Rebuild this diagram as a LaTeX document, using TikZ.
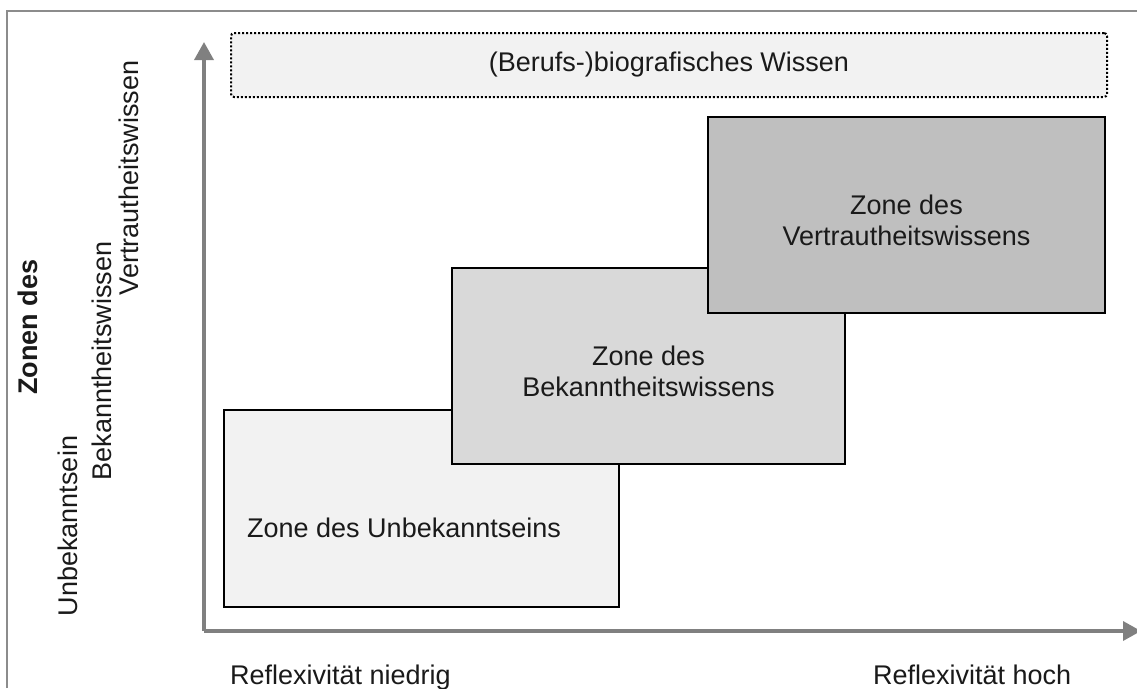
\documentclass[tikz,border=0pt]{standalone}
\usepackage{fontspec}
\setmainfont{Liberation Sans}
\usetikzlibrary{arrows.meta}
\definecolor{frameg}{HTML}{8C8C8C}
\definecolor{axisg}{HTML}{808080}
\definecolor{fillA}{HTML}{F2F2F2}
\definecolor{fillB}{HTML}{D9D9D9}
\definecolor{fillC}{HTML}{BFBFBF}
\definecolor{txt}{HTML}{1A1A1A}
\tikzset{
  zonebox/.style={draw=black, line width=2pt, inner sep=0pt, align=center, text=txt},
  lbl/.style={text=txt, inner sep=0pt},
  axisline/.style={draw=axisg, line width=3.5pt, -{Triangle[length=18pt,width=19pt]}},
}
\begin{document}
\begin{tikzpicture}[x=1pt,y=-1pt, font=\fontsize{27}{31}\selectfont]
\useasboundingbox (0,0) rectangle (1137,688);
\fill[white] (0,0) rectangle (1137,688);
% outer frame (visible part)
\draw[frameg, line width=2pt] (7,688) -- (7,11) -- (1137,11);
% top dotted box
\node[draw=black, dotted, line width=2pt, rounded corners=3pt, fill=fillA, minimum width=876pt, minimum height=64pt, inner sep=0pt, text=txt] (bio) at (669,65) {(Berufs-)biografisches Wissen};
% zone boxes
\node[zonebox, fill=fillA, minimum width=395pt, minimum height=197pt] (z1) at (421.5,508.5) {};
\node[zonebox, fill=fillB, minimum width=393pt, minimum height=196pt] (z2) at (648.5,366) {};
\node[zonebox, fill=fillC, minimum width=397pt, minimum height=196pt] (z3) at (906.5,215) {};
\node[lbl, anchor=base west] (t1) at (247,537) {Zone des Unbekanntseins};
\node[lbl, align=center] (t2) at (648.5,371) {Zone des\\Bekanntheitswissens};
\node[lbl, align=center] (t3) at (906.5,220) {Zone des\\Vertrautheitswissens};
% axes
\coordinate (O) at (204,631);
\coordinate (ytop) at (204,42);
\coordinate (xend) at (1141,631);
\draw[axisline] (O) -- (ytop);
\draw[axisline] (O) -- (xend);
% axis labels
\node[lbl, anchor=base west] (xl) at (230,684) {Reflexivität niedrig};
\node[lbl, anchor=base west] (xr) at (873,684) {Reflexivität hoch};
\node[lbl, anchor=base, rotate=90, font=\fontsize{27}{31}\selectfont\bfseries] (yz) at (37,327) {Zonen des};
\node[lbl, anchor=base, rotate=90] (y1) at (77,526) {Unbekanntsein};
\node[lbl, anchor=base, rotate=90] (y2) at (111,361) {Bekanntheitswissen};
\node[lbl, anchor=base, rotate=90] (y3) at (138,178) {Vertrautheitswissen};
\end{tikzpicture}
\end{document}
